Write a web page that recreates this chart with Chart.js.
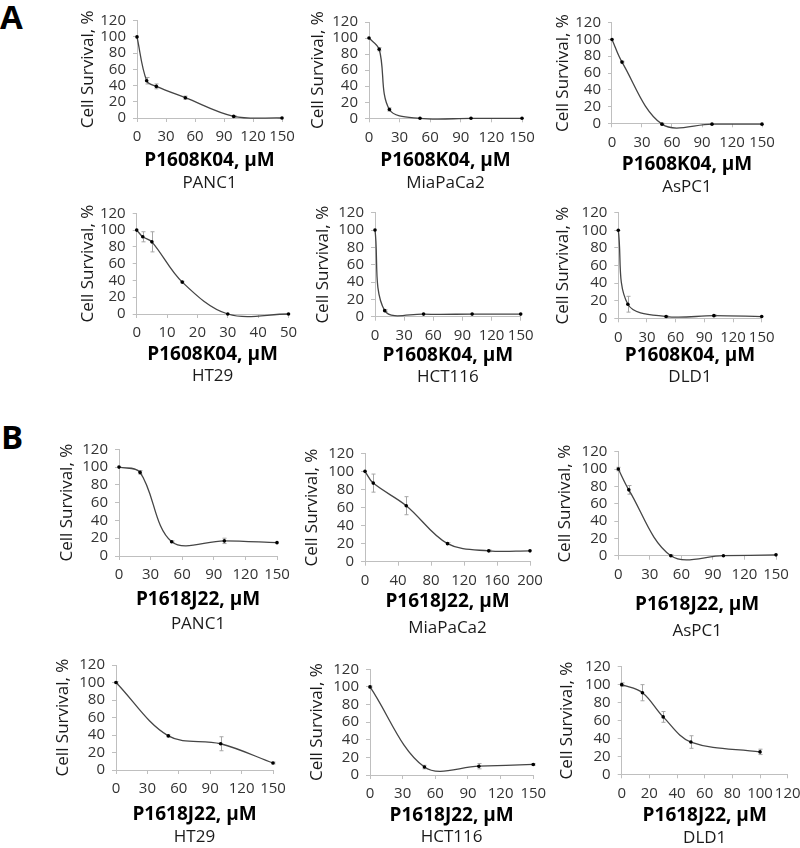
<!DOCTYPE html>
<html><head><meta charset="utf-8">
<script src="https://cdn.jsdelivr.net/npm/chart.js@4/dist/chart.umd.min.js"></script>
<style>
html,body{margin:0;padding:0;background:#fff;}
#root{position:relative;width:800px;height:848px;overflow:hidden;background:#fff;}
.wrap{position:absolute;}
.panel{position:absolute;font-family:"Open Sans",sans-serif;font-weight:700;font-size:33px;line-height:33px;color:#000;}
</style></head><body><div id="root">
<div class="panel" style="left:0px;top:0px">A</div>
<div class="panel" style="left:1px;top:420px">B</div>
</div>
<script>
// ---------------- data ----------------
const compoundA = "P1608K04, µM";
const compoundB = "P1618J22, µM";
const yTitle = "Cell Survival, %";
const yTicks = [0, 20, 40, 60, 80, 100, 120];

const A_PANC1_conc = [0, 10, 20, 50, 100, 150];
const A_PANC1_surv = [100, 46, 39, 25, 2, 0];
const A_PANC1_err  = [0, 4, 3, 2, 1, 0];
const A_PANC1_xticks = [0, 30, 60, 90, 120, 150];

const A_MiaPaCa2_conc = [0, 10, 20, 50, 100, 150];
const A_MiaPaCa2_surv = [100, 86, 11, 0, 0, 0];
const A_MiaPaCa2_err  = [0, 2, 2, 0, 0, 0];
const A_MiaPaCa2_xticks = [0, 30, 60, 90, 120, 150];

const A_AsPC1_conc = [0, 10, 50, 100, 150];
const A_AsPC1_surv = [100, 73, -1, -1, -1];
const A_AsPC1_err  = [0, 1, 1, 0, 0];
const A_AsPC1_xticks = [0, 30, 60, 90, 120, 150];

const A_HT29_conc = [0, 2, 5, 15, 30, 50];
const A_HT29_surv = [100, 92, 86, 38, 0, 0];
const A_HT29_err  = [0, 6, 12, 1, 0, 0];
const A_HT29_xticks = [0, 10, 20, 30, 40, 50];

const A_HCT116_conc = [0, 10, 50, 100, 150];
const A_HCT116_surv = [100, 7, 3, 3, 3];
const A_HCT116_err  = [0, 1, 0, 0, 0];
const A_HCT116_xticks = [0, 30, 60, 90, 120, 150];

const A_DLD1_conc = [0, 10, 50, 100, 150];
const A_DLD1_surv = [100, 16, 2, 3, 2];
const A_DLD1_err  = [0, 9, 1, 1, 0];
const A_DLD1_xticks = [0, 30, 60, 90, 120, 150];

const B_PANC1_conc = [0, 20, 50, 100, 150];
const B_PANC1_surv = [100, 94, 16, 17, 15];
const B_PANC1_err  = [0, 2, 1, 3, 0];
const B_PANC1_xticks = [0, 30, 60, 90, 120, 150];

const B_MiaPaCa2_conc = [0, 10, 50, 100, 150, 200];
const B_MiaPaCa2_surv = [100, 87, 62, 20, 12, 12];
const B_MiaPaCa2_err  = [0, 10, 10, 1, 1, 0];
const B_MiaPaCa2_xticks = [0, 40, 80, 120, 160, 200];

const B_AsPC1_conc = [0, 10, 50, 100, 150];
const B_AsPC1_surv = [100, 76, 0, 0, 1];
const B_AsPC1_err  = [2, 5, 1, 0, 0];
const B_AsPC1_xticks = [0, 30, 60, 90, 120, 150];

const B_HT29_conc = [0, 50, 100, 150];
const B_HT29_surv = [100, 39, 30, 8];
const B_HT29_err  = [1, 1, 8, 1];
const B_HT29_xticks = [0, 30, 60, 90, 120, 150];

const B_HCT116_conc = [0, 50, 100, 150];
const B_HCT116_surv = [100, 9, 10, 12];
const B_HCT116_err  = [1, 2, 3, 1];
const B_HCT116_xticks = [0, 30, 60, 90, 120, 150];

const B_DLD1_conc = [0, 15, 30, 50, 100];
const B_DLD1_surv = [100, 91, 64, 36, 25];
const B_DLD1_err  = [2, 9, 6, 7, 3];
const B_DLD1_xticks = [0, 20, 40, 60, 80, 100, 120];

// ---------------- panels (layout only) ----------------
const panels = [
  {name:"PANC1",    cmp:compoundA, conc:A_PANC1_conc, surv:A_PANC1_surv, err:A_PANC1_err, xt:A_PANC1_xticks,
   L:137, R:282, T:20.7, B:118, xTitleY:161, nameY:183, d:49},
  {name:"MiaPaCa2", cmp:compoundA, conc:A_MiaPaCa2_conc, surv:A_MiaPaCa2_surv, err:A_MiaPaCa2_err, xt:A_MiaPaCa2_xticks,
   L:369, R:522, T:22, B:118.3, xTitleY:161, nameY:183, d:51},
  {name:"AsPC1",    cmp:compoundA, conc:A_AsPC1_conc, surv:A_AsPC1_surv, err:A_AsPC1_err, xt:A_AsPC1_xticks,
   L:612, R:762, T:22.7, B:123.3, xTitleY:165, nameY:187, d:49},
  {name:"HT29",     cmp:compoundA, conc:A_HT29_conc, surv:A_HT29_surv, err:A_HT29_err, xt:A_HT29_xticks,
   L:136.7, R:288.5, T:213.3, B:314, xTitleY:355, nameY:376, d:49},
  {name:"HCT116",   cmp:compoundA, conc:A_HCT116_conc, surv:A_HCT116_surv, err:A_HCT116_err, xt:A_HCT116_xticks,
   L:375, R:520.7, T:212.7, B:316.7, xTitleY:356, nameY:377, d:52},
  {name:"DLD1",     cmp:compoundA, conc:A_DLD1_conc, surv:A_DLD1_surv, err:A_DLD1_err, xt:A_DLD1_xticks,
   L:618.3, R:761.7, T:212.7, B:318.3, xTitleY:356, nameY:377, d:55},
  {name:"PANC1",    cmp:compoundB, conc:B_PANC1_conc, surv:B_PANC1_surv, err:B_PANC1_err, xt:B_PANC1_xticks,
   L:119, R:277, T:449.3, B:556, xTitleY:600, nameY:624, d:52},
  {name:"MiaPaCa2", cmp:compoundB, conc:B_MiaPaCa2_conc, surv:B_MiaPaCa2_surv, err:B_MiaPaCa2_err, xt:B_MiaPaCa2_xticks,
   L:365, R:530, T:453.3, B:561.7, xTitleY:602, nameY:628, d:53},
  {name:"AsPC1",    cmp:compoundB, conc:B_AsPC1_conc, surv:B_AsPC1_surv, err:B_AsPC1_err, xt:B_AsPC1_xticks,
   L:618.3, R:776, T:451.7, B:555.7, xTitleY:605, nameY:631, d:53},
  {name:"HT29",     cmp:compoundB, conc:B_HT29_conc, surv:B_HT29_surv, err:B_HT29_err, xt:B_HT29_xticks,
   L:116, R:273, T:665, B:770, xTitleY:815, nameY:837, d:53},
  {name:"HCT116",   cmp:compoundB, conc:B_HCT116_conc, surv:B_HCT116_surv, err:B_HCT116_err, xt:B_HCT116_xticks,
   L:370, R:533.3, T:669.3, B:775, xTitleY:816, nameY:837, d:53},
  {name:"DLD1",     cmp:compoundB, conc:B_DLD1_conc, surv:B_DLD1_surv, err:B_DLD1_err, xt:B_DLD1_xticks,
   L:621.7, R:787.7, T:666.7, B:774.3, xTitleY:816, nameY:838, d:55},
];

const FONT = '"Open Sans", sans-serif';
const AXIS_COLOR = '#bfbfbf';
const TICK_SIZE = 15, YTITLE_SIZE = 17, XTITLE_SIZE = 19, NAME_SIZE = 17;

const errorBarPlugin = {
  id: 'errorBars',
  beforeDatasetsDraw(chart) {
    const {ctx} = chart;
    const xs = chart.scales.x, ys = chart.scales.y;
    chart.data.datasets.forEach(ds => {
      const errs = ds.errorValues;
      if (!errs) return;
      ctx.save();
      ctx.strokeStyle = '#a6a6a6';
      ctx.lineWidth = 1;
      ds.data.forEach((p, i) => {
        const e = errs[i];
        if (!e) return;
        const px = Math.round(xs.getPixelForValue(p.x)) + 0.5;
        const y1 = ys.getPixelForValue(p.y - e);
        const y2 = ys.getPixelForValue(p.y + e);
        ctx.beginPath();
        ctx.moveTo(px, y1); ctx.lineTo(px, y2);
        ctx.moveTo(px - 2, y1); ctx.lineTo(px + 2, y1);
        ctx.moveTo(px - 2, y2); ctx.lineTo(px + 2, y2);
        ctx.stroke();
      });
      ctx.restore();
    });
  }
};

const root = document.getElementById('root');

panels.forEach(p => {
  const yTitleLH = YTITLE_SIZE * 1.2;
  const xTitleLH = XTITLE_SIZE * 1.2;
  const nameLH = NAME_SIZE * 1.2;
  const W = p.d + yTitleLH / 2;                 // y axis box width
  const H = p.xTitleY - p.B + xTitleLH / 2;     // x axis box height
  const namePadTop = Math.max(0, p.nameY - (p.B + H) - nameLH / 2);
  const titleBoxH = nameLH + namePadTop;

  const left = Math.floor(p.L - W - 4);
  const padL = p.L - W - left;
  const top = Math.floor(p.T - 14);
  const padT = p.T - top;
  const width = Math.ceil(p.R - left + 30);
  const padR = width - (p.R - left);
  const height = Math.ceil((p.B - top) + H + titleBoxH + 6);
  const padB = height - (p.B - top) - H - titleBoxH;

  const wrap = document.createElement('div');
  wrap.className = 'wrap';
  wrap.style.left = left + 'px';
  wrap.style.top = top + 'px';
  wrap.style.width = width + 'px';
  wrap.style.height = height + 'px';
  const canvas = document.createElement('canvas');
  wrap.appendChild(canvas);
  root.appendChild(wrap);

  const xMax = p.xt[p.xt.length - 1];
  const pts = p.conc.map((c, i) => ({x: c, y: p.surv[i]}));

  new Chart(canvas, {
    type: 'scatter',
    data: {
      datasets: [{
        data: pts,
        errorValues: p.err,
        showLine: true,
        clip: false,
        borderColor: '#454545',
        borderWidth: 1.3,
        tension: 0.35,
        pointRadius: 1.8,
        pointBackgroundColor: '#000',
        pointBorderWidth: 0,
      }]
    },
    options: {
      responsive: true,
      maintainAspectRatio: false,
      animation: false,
      events: [],
      devicePixelRatio: 1,
      layout: {padding: {left: padL, right: padR, top: padT, bottom: padB}},
      elements: {line: {capBezierPoints: false}},
      plugins: {
        legend: {display: false},
        tooltip: {enabled: false},
        title: {
          display: true, text: p.name, position: 'bottom', fullSize: false,
          color: '#1a1a1a',
          font: {family: FONT, size: NAME_SIZE, weight: 'normal', lineHeight: 1.2},
          padding: {top: namePadTop, bottom: 0}
        }
      },
      scales: {
        x: {
          type: 'linear', min: 0, max: xMax,
          afterBuildTicks: s => { s.ticks = p.xt.map(v => ({value: v})); },
          afterFit: s => { s.height = H; s.paddingLeft = 0; s.paddingRight = 0; },
          grid: {display: true, drawOnChartArea: false, drawTicks: true, tickLength: 4, color: AXIS_COLOR, lineWidth: 1},
          border: {display: true, color: AXIS_COLOR, width: 1},
          ticks: {padding: 6, color: '#333', font: {family: FONT, size: TICK_SIZE, lineHeight: 1.2}, maxRotation: 0, autoSkip: false},
          title: {display: true, text: p.cmp, color: '#000',
                  font: {family: FONT, size: XTITLE_SIZE, weight: 'bold', lineHeight: 1.2}, padding: {top: 0, bottom: 0}}
        },
        y: {
          type: 'linear', min: 0, max: 120,
          afterBuildTicks: s => { s.ticks = yTicks.map(v => ({value: v})); },
          afterFit: s => { s.width = W; s.paddingTop = 0; s.paddingBottom = 0; },
          grid: {display: true, drawOnChartArea: false, drawTicks: true, tickLength: 4, color: AXIS_COLOR, lineWidth: 1},
          border: {display: true, color: AXIS_COLOR, width: 1},
          ticks: {padding: 7, color: '#333', font: {family: FONT, size: TICK_SIZE, lineHeight: 1.2}, autoSkip: false},
          title: {display: true, text: yTitle, color: '#1a1a1a',
                  font: {family: FONT, size: YTITLE_SIZE, weight: 'normal', lineHeight: 1.2}, padding: {top: 0, bottom: 0}}
        }
      }
    },
    plugins: [errorBarPlugin]
  });
});
</script>
</body></html>
